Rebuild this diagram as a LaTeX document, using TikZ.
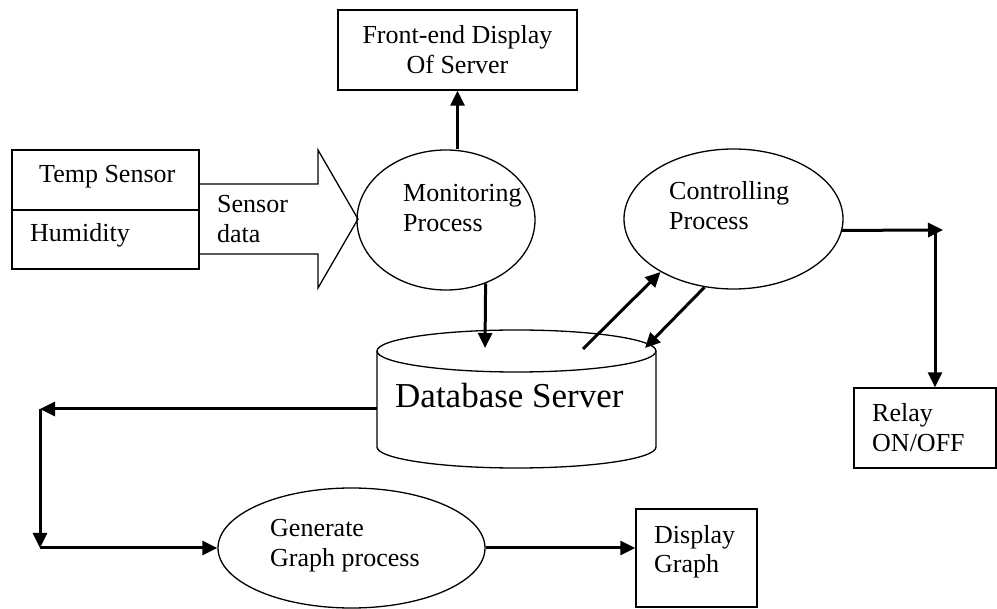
\documentclass[tikz,border=0pt]{standalone}
\usepackage{fontspec}
\setmainfont{Liberation Serif}
\usepackage{tikz}
\usetikzlibrary{arrows.meta,shapes.geometric}

\begin{document}
\begin{tikzpicture}[x=1pt,y=-1pt,
 line/.style={draw=black,line width=1.3pt},
 box/.style={line,rectangle,inner sep=0},
 proc/.style={line,ellipse,inner sep=0},
 txt/.style={anchor=base west,align=left,inner sep=0},
 flow/.style={draw=black,line width=3pt,-{Triangle[length=15pt,width=14pt]}},
 every node/.style={font=\fontsize{26}{30}\selectfont}]
\useasboundingbox (0,0) rectangle (997,609);
\node[box,minimum width=239pt,minimum height=80pt,align=center] (front) at (457.5,50) {Front-end Display\\Of Server};
\node[box,minimum width=187pt,minimum height=60pt] (temp) at (105.5,180) {};
\node[box,minimum width=187pt,minimum height=59pt] (hum) at (105.5,239.5) {};
\node[txt] (temptxt) at (39,183) {Temp Sensor};
\node[txt] (humtxt) at (30,242) {Humidity};
\draw[line] (199,184) -- (318,184) -- (318,150) -- (358,219) -- (318,288) -- (318,254) -- (199,254);
\node[txt] (sdata) at (217,243) {Sensor\\data};
\node[proc,minimum width=178pt,minimum height=140pt] (mon) at (446,220) {};
\node[txt] (montxt) at (403,232) {Monitoring\\Process};
\node[proc,minimum width=219pt,minimum height=140pt] (ctl) at (733.5,219) {};
\node[txt] (ctltxt) at (669,230) {Controlling\\Process};
\node[proc,minimum width=267pt,minimum height=120pt] (gen) at (351.5,548) {};
\node[txt] (gentxt) at (270,567) {Generate\\Graph process};
\node[box,minimum width=121pt,minimum height=98pt] (disp) at (696.5,558) {};
\node[txt] (disptxt) at (654,573) {Display\\Graph};
\node[box,minimum width=142pt,minimum height=80pt] (relay) at (925,428) {};
\node[txt] (relaytxt) at (872,452) {Relay\\ON/OFF};
\draw[line] (377,351) -- (377,447) arc[start angle=180,end angle=0,x radius=139.5,y radius=21] -- (656,351);
\draw[line] (516.5,351) ellipse[x radius=139.5,y radius=21];
\node[inner sep=0,minimum width=279pt,minimum height=138pt] (db) at (516.5,399) {};
\node[txt,font=\fontsize{35}{40}\selectfont] (dbtxt) at (395,408) {Database Server};
\coordinate (dbin) at (485,348);
\coordinate (dbup) at (583,349);
\coordinate (dbdown) at (645,348);
\coordinate (rc) at (943,230);
\coordinate (rv) at (935,230);
\coordinate (gl1) at (40,409);
\coordinate (gl2) at (40,548);
\draw[flow] (mon.north -| front.south) -- (front.south);
\draw[flow] (mon.-58) -- (dbin);
\draw[flow] (dbup) -- (ctl.216);
\draw[flow] (ctl.247) -- (dbdown);
\draw[flow] (ctl.-6) -- (rc);
\draw[flow] (rv) -- (rv |- relay.north);
\draw[flow] (db.west |- gl1) -- (gl1);
\draw[flow] (gl1) -- (gl2);
\draw[flow] (gl2) -- (gen.west);
\draw[flow] (gen.east) -- (gen.east -| disp.west);
\end{tikzpicture}
\end{document}
